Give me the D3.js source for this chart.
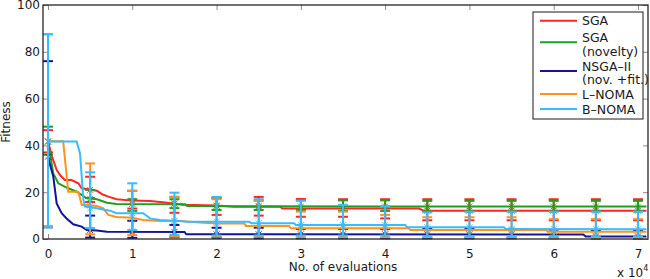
<!DOCTYPE html>
<html>
<head>
<meta charset="utf-8">
<script src="https://cdn.jsdelivr.net/npm/d3@7"></script>
<style>
  body { margin: 0; background: #fff; }
  text { font-family: "DejaVu Sans", sans-serif; }
</style>
</head>
<body>
<div id="chart"></div>
<script>
// fitness vs evaluations, matlab-ish errorbar plot

const seriesNames = ["SGA", "SGA\n(novelty)", "NSGA\u2013II\n(nov. +fit.)", "L\u2013NOMA", "B\u2013NOMA"];
const seriesColors = ["#ff2626", "#1f9e1f", "#14149a", "#ff921e", "#38bcff"];

// mean curves, [evaluations, fitness]
const sgaLine = [[0,41.6],[500,35],[1030,29.5],[1500,27],[2000,25.2],[2800,25.2],[3600,23.8],[4000,21.7],[5800,20.6],[6500,19],[7150,18.1],[8150,17],[10000,16.4],[12100,16.2],[13900,15.6],[16000,14.6],[20000,14.3],[22000,13.8],[27600,13.8],[27800,13.0],[44000,13.0],[44600,12.1],[71000,12.1]];
const novLine = [[0,41.6],[300,35],[630,28],[1220,23.8],[2200,22],[3400,20.2],[4600,17.4],[5800,17],[7000,15.5],[8150,15],[16300,14.8],[16500,14.1],[40000,13.9],[71000,13.9]];
const nsgaLine = [[0,35.2],[300,31],[630,26.6],[1030,15.2],[1620,11],[2200,8.8],[3000,6.3],[4000,5.3],[4600,3.8],[5800,3.6],[7000,3.1],[16200,3.0],[16400,2.0],[63500,1.9],[63800,1.1],[71000,1.1]];
const lnomaLine = [[0,41.8],[1800,41.8],[2400,20.2],[3600,20.2],[4000,14.6],[5800,14.1],[6560,13.1],[7150,10.3],[8150,9.4],[10000,9.1],[11300,8.1],[13300,7.7],[15700,7.7],[18000,7.0],[20000,6.6],[23300,6.6],[23500,5.6],[28600,5.6],[28800,4.6],[42800,4.6],[43000,3.8],[59100,3.8],[59300,3.1],[71000,3.1]];
const bnomaLine = [[0,41.7],[3400,41.7],[3800,36.6],[4200,16.7],[4400,13.8],[5800,13.1],[7350,12.1],[8150,11],[11300,11],[12100,8.8],[13300,8.1],[15700,7.7],[16500,7.4],[23900,7.4],[24100,6.7],[29200,6.7],[29400,6.0],[42400,6.0],[42600,5.0],[54100,5.0],[54300,4.3],[71000,4.2]];

// error bars every 5000 evaluations
const barEvals = [0,5000,10000,15000,20000,25000,30000,35000,40000,45000,50000,55000,60000,65000,70000];
const sgaMean = [41.6,21,16.4,15.2,14.3,13.8,13.0,13.0,13.0,12.1,12.1,12.1,12.1,12.1,12.1];
const sgaLo = [37,15.8,13,11.2,10.3,10,9.5,9.5,8.8,8,8,8,8,8,8];
const sgaHi = [46.5,26.6,20.6,18,17.5,18,17.1,17,17,17,17,17,17,17,17];
const novMean = [41.6,17.2,15,15,14.1,14.1,13.9,13.9,13.9,13.9,13.9,13.9,13.9,13.9,13.9];
const novLo = [36,17.5,12,13.2,12.4,12.4,12.4,12,12,11.8,11.8,11.8,11.8,11.8,11.8];
const novHi = [48,21,17,17,17.5,16.4,16.5,16.5,16.5,16.3,16.3,16.3,16.3,16.3,16.3];
const nsgaMean = [35.2,3.8,3.1,3.0,2.0,2.0,2.0,2.0,2.0,2.0,2.0,2.0,2.0,1.1,1.1];
const nsgaLo = [5,0.6,0.5,0.8,0.5,0.3,0.3,0.3,0.3,0.3,0.3,0.3,0.3,0.2,0.2];
const nsgaHi = [76,10,7.8,6,4.8,4.8,4.3,4.3,4.3,4.3,4.3,4.3,4.0,3.5,3.5];
const lnomaMean = [41.8,14.2,9.1,7.7,6.6,5.6,4.6,4.6,4.6,3.8,3.8,3.8,3.1,3.1,3.1];
const lnomaLo = [5.5,2,1.7,1,1,1,0.7,0.7,0.7,0.7,0.7,0.7,0.5,0.5,0.5];
const lnomaHi = [87.5,32.3,20.6,18,17,16.5,11.7,11.7,10.3,9.3,9.3,9.3,8.5,8.5,8.5];
const bnomaMean = [41.7,13.1,11,7.7,7.4,6.7,6.0,6.0,6.0,5.0,5.0,4.3,4.3,4.3,4.2];
const bnomaLo = [5,4.7,3.8,1.7,1.5,1.5,1.5,1.5,1.5,1.2,1.2,1.2,1.2,1.2,1.2];
const bnomaHi = [87.5,28.5,23.8,19.8,18,17,16.4,14.5,14,11.4,11.7,11.7,11.7,11.7,11.7];

const xTicks = [0,10000,20000,30000,40000,50000,60000,70000];
const yTicks = [0,20,40,60,80,100];

const lines = [sgaLine, novLine, nsgaLine, lnomaLine, bnomaLine];
const means = [sgaMean, novMean, nsgaMean, lnomaMean, bnomaMean];
const los = [sgaLo, novLo, nsgaLo, lnomaLo, bnomaLo];
const his = [sgaHi, novHi, nsgaHi, lnomaHi, bnomaHi];

const W = 650, H = 279;
const m = {left: 43, right: 2, top: 5, bottom: 40};
const iw = W - m.left - m.right, ih = H - m.top - m.bottom;

const svg = d3.select("#chart").append("svg")
  .attr("width", W).attr("height", H);
const g = svg.append("g").attr("transform", `translate(${m.left},${m.top})`);

const x = d3.scaleLinear().domain([-593, 71186]).range([0, iw]);
const y = d3.scaleLinear().domain([0, 100]).range([ih, 0]);

g.append("rect").attr("width", iw).attr("height", ih).attr("fill", "#fff");

// axes: ticks inward, labels only bottom/left
function styleAxis(sel) {
  sel.select(".domain").remove();
  sel.selectAll(".tick line").attr("stroke", "#8a8a8a");
  sel.selectAll("text").attr("font-size", 12).attr("fill", "#1a1a1a")
    .attr("font-family", "DejaVu Sans, sans-serif");
}
g.append("g").attr("transform", `translate(0,${ih})`)
  .call(d3.axisBottom(x).tickValues(xTicks).tickSize(-5).tickPadding(10).tickFormat(d => d / 10000))
  .call(styleAxis);
g.append("g")
  .call(d3.axisTop(x).tickValues(xTicks).tickSize(-5).tickFormat(""))
  .call(styleAxis);
g.append("g")
  .call(d3.axisLeft(y).tickValues(yTicks).tickSize(-5).tickPadding(3))
  .call(styleAxis);
g.append("g").attr("transform", `translate(${iw},0)`)
  .call(d3.axisRight(y).tickValues(yTicks).tickSize(-5).tickFormat(""))
  .call(styleAxis);

const line = d3.line().x(d => x(d[0])).y(d => y(d[1]));

lines.forEach((pts, i) => {
  const c = seriesColors[i];
  g.append("path").datum(pts)
    .attr("d", line).attr("fill", "none")
    .attr("stroke", c).attr("stroke-width", 2);

  const bars = g.append("g");
  barEvals.forEach((ev, j) => {
    const bx = x(ev), lo = y(los[i][j]), hi = y(his[i][j]), my = y(means[i][j]);
    bars.append("line").attr("x1", bx).attr("x2", bx).attr("y1", lo).attr("y2", hi)
      .attr("stroke", c).attr("stroke-width", 2);
    [lo, hi].forEach(cy => {
      bars.append("line").attr("x1", bx - 5).attr("x2", bx + 5).attr("y1", cy).attr("y2", cy)
        .attr("stroke", c).attr("stroke-width", 2);
    });
    bars.append("path")
      .attr("d", `M${bx-3},${my-3}L${bx+3},${my+3}M${bx-3},${my+3}L${bx+3},${my-3}`)
      .attr("stroke", c).attr("stroke-width", 1).attr("opacity", 0.8);
  });
});

// frame
g.append("rect").attr("width", iw).attr("height", ih)
  .attr("fill", "none").attr("stroke", "#262626").attr("stroke-width", 1.3);

// axis titles
svg.append("text").attr("x", m.left + x(35000)).attr("y", 271)
  .attr("text-anchor", "middle").attr("font-size", 12).attr("fill", "#1a1a1a")
  .text("No. of evaluations");
svg.append("text").attr("transform", `translate(10,${m.top + ih / 2}) rotate(-90)`)
  .attr("text-anchor", "middle").attr("font-size", 12).attr("fill", "#1a1a1a")
  .text("Fitness");
const sci = svg.append("text").attr("x", 617).attr("y", 277)
  .attr("font-size", 12).attr("fill", "#1a1a1a");
sci.append("tspan").text("x 10");
sci.append("tspan").attr("font-size", 8).attr("dy", -6).text("4");

// legend
const lg = svg.append("g").attr("transform", "translate(533,12)");
lg.append("rect").attr("width", 110).attr("height", 107)
  .attr("fill", "#fff").attr("stroke", "#1a1a1a").attr("stroke-width", 1);
const rowY = [8.7, 30.3, 59, 82, 97];
seriesNames.forEach((name, i) => {
  const ry = rowY[i];
  lg.append("line").attr("x1", 7).attr("x2", 44).attr("y1", ry).attr("y2", ry)
    .attr("stroke", seriesColors[i]).attr("stroke-width", 2);
  const parts = name.split("\n");
  const t = lg.append("text").attr("x", 49).attr("font-size", 12.5).attr("fill", "#1a1a1a");
  parts.forEach((p, k) => {
    t.append("tspan").attr("x", 49)
      .attr("y", parts.length > 1 ? ry + k * 13.4 : ry + 4.5).text(p);
  });
});
</script>
</body>
</html>
